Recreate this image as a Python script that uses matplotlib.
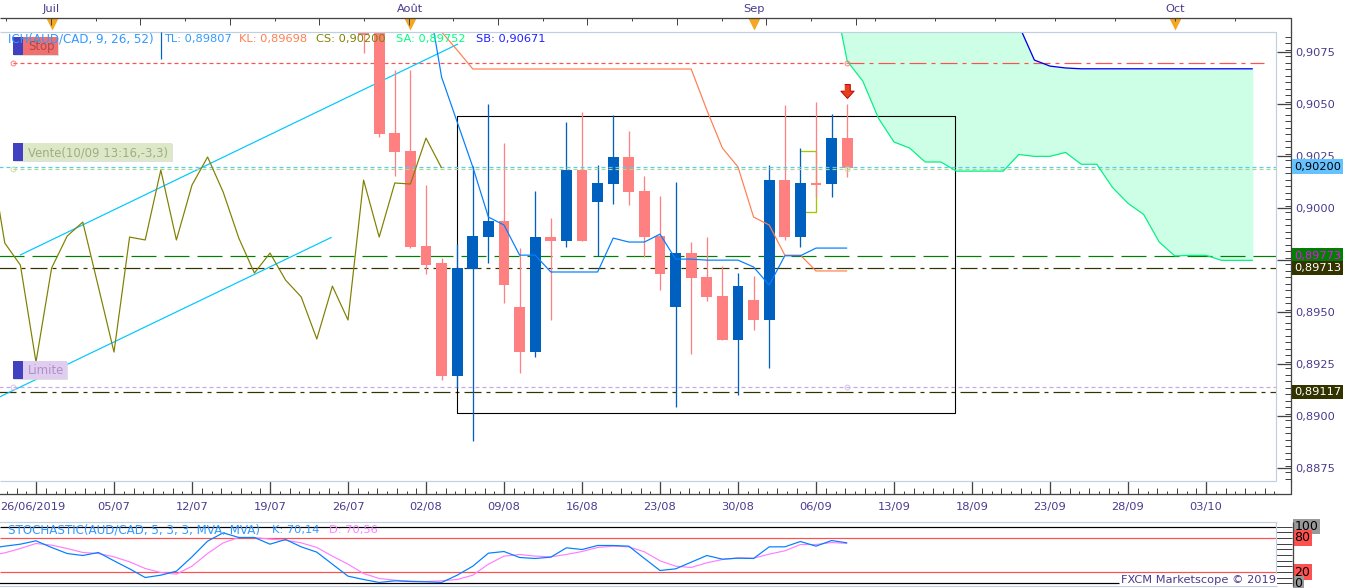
import numpy as np
import matplotlib
matplotlib.use('Agg')
import matplotlib.pyplot as plt
from matplotlib.patches import Rectangle

plt.rcParams['font.family'] = ['DejaVu Sans']
plt.rcParams['lines.scale_dashes'] = False
plt.rcParams['lines.solid_capstyle'] = 'butt'
plt.rcParams['lines.dash_capstyle'] = 'butt'

# Bars (bar number 0 is 26/06/2019, the x labels sit on every 5th bar)
candle_idx = np.arange(21, 53)
opens = [0.90900, 0.90850, 0.90362, 0.90275, 0.89819, 0.89737, 0.89195, 0.89708,
         0.89862, 0.89939, 0.89525, 0.89309, 0.89862, 0.89843, 0.90184, 0.90030,
         0.90117, 0.90247, 0.90083, 0.89867, 0.89525, 0.89785, 0.89670, 0.89578,
         0.89367, 0.89559, 0.89463, 0.90136, 0.89862, 0.90122, 0.90117, 0.90338]
highs = [0.90950, 0.90900, 0.90665, 0.90665, 0.90112, 0.89761, 0.89828, 0.90203,
         0.90501, 0.90314, 0.89809, 0.90083, 0.89953, 0.90415, 0.90463, 0.90208,
         0.90449, 0.90372, 0.90155, 0.90059, 0.90126, 0.89838, 0.89862, 0.89723,
         0.89689, 0.89675, 0.90208, 0.90497, 0.90290, 0.90511, 0.90453, 0.90501]
lows = [0.90747, 0.90343, 0.90155, 0.89810, 0.89686, 0.89174, 0.89136, 0.88881,
        0.89737, 0.89545, 0.89208, 0.89285, 0.89463, 0.89814, 0.89843, 0.89771,
        0.90021, 0.90016, 0.89766, 0.89607, 0.89045, 0.89299, 0.89554, 0.89367,
        0.89102, 0.89415, 0.89232, 0.89848, 0.89814, 0.90054, 0.90054, 0.90150]
closes = [0.90833, 0.90357, 0.90271, 0.89815, 0.89727, 0.89195, 0.89713, 0.89867,
          0.89939, 0.89631, 0.89309, 0.89862, 0.89843, 0.90184, 0.89843, 0.90122,
          0.90247, 0.90078, 0.89862, 0.89684, 0.89785, 0.89665, 0.89574, 0.89367,
          0.89626, 0.89463, 0.90136, 0.89862, 0.90122, 0.90112, 0.90338, 0.90194]

# Ichimoku lines
tenkan_idx = np.arange(25, 53)
tenkan = [0.91074, 0.90631, 0.90415, 0.90199, 0.89958, 0.89920, 0.89775, 0.89775,
          0.89694, 0.89694, 0.89694, 0.89694, 0.89857, 0.89838, 0.89838, 0.89876,
          0.89756, 0.89756, 0.89751, 0.89751, 0.89751, 0.89718, 0.89631, 0.89772,
          0.89772, 0.89809, 0.89809, 0.89809]
kijun_idx = np.arange(26, 53)
kijun = [0.90848, 0.90761, 0.90670, 0.90670, 0.90670, 0.90670, 0.90670, 0.90670,
         0.90670, 0.90670, 0.90670, 0.90670, 0.90670, 0.90670, 0.90670, 0.90670,
         0.90670, 0.90473, 0.90290, 0.90199, 0.89958, 0.89920, 0.89775, 0.89775,
         0.89699, 0.89699, 0.89699]
chikou_idx = np.arange(-3, 27)
chikou = [0.90285, 0.89833, 0.89727, 0.89261, 0.89713, 0.89867, 0.89934, 0.89622,
          0.89309, 0.89862, 0.89848, 0.90184, 0.89848, 0.90112, 0.90247, 0.90078,
          0.89857, 0.89689, 0.89785, 0.89655, 0.89574, 0.89372, 0.89626, 0.89463,
          0.90136, 0.89862, 0.90122, 0.90117, 0.90338, 0.90194]
senkou_idx = np.arange(51, 79)
senkou_a = [0.91083, 0.90708, 0.90612, 0.90434, 0.90319, 0.90290, 0.90223, 0.90223,
            0.90179, 0.90179, 0.90179, 0.90179, 0.90259, 0.90250, 0.90250, 0.90269,
            0.90212, 0.90212, 0.90101, 0.90024, 0.89971, 0.89838, 0.89771, 0.89774,
            0.89774, 0.89750, 0.89750, 0.89750]
senkou_b = [0.91100, 0.91100, 0.91100, 0.91100, 0.91100, 0.91100, 0.91100, 0.91100,
            0.91100, 0.91100, 0.91100, 0.91050, 0.90881, 0.90713, 0.90684, 0.90675,
            0.90671, 0.90671, 0.90671, 0.90671, 0.90671, 0.90671, 0.90671, 0.90671,
            0.90671, 0.90671, 0.90671, 0.90671]

# Drawn objects and levels
box_x = [27, 58.93]
box_y = [0.89014, 0.90444]
channel_up_x = [-1.03, 27.05]
channel_up_y = [0.89775, 0.90790]
channel_low_x = [-2.31, 18.95]
channel_low_y = [0.89094, 0.89861]
bracket_x = [49, 50, 50, 49]
bracket_y = [0.90275, 0.90275, 0.89982, 0.89982]
order_x = [-1.47, 52]
stop_level = 0.90697
sell_level = 0.90189
limit_level = 0.89139
price_level = 0.90200
green_level = 0.89773
dark_level_1 = 0.89713
dark_level_2 = 0.89117

# Stochastic
stoch_idx = np.arange(-3, 53)
stoch_k = [61.4, 65.5, 69.0, 74.9, 63.2, 52.6, 49.1, 54.4, 39.8, 25.7, 10.5, 14.6,
           21.6, 46.8, 74.3, 88.9, 80.7, 80.7, 69.0, 77.2, 64.3, 55.0, 33.9, 12.9,
           7.0, 1.8, 4.7, 3.5, 2.9, 1.8, 14.6, 30.4, 53.2, 56.1, 45.6, 43.9, 46.2,
           62.6, 59.6, 66.7, 66.7, 65.5, 43.9, 22.8, 25.7, 37.4, 49.1, 42.7, 44.4,
           43.9, 64.3, 64.3, 73.7, 65.5, 75.4, 71.3]
stoch_d = [48.5, 53.8, 61.4, 70.2, 67.3, 61.4, 54.4, 52.6, 46.8, 38.0, 26.3, 19.3,
           16.4, 30.4, 52.6, 71.3, 80.7, 80.7, 77.8, 76.0, 71.3, 63.2, 48.0, 33.9,
           17.5, 8.8, 5.8, 4.1, 3.5, 4.7, 7.0, 14.6, 33.9, 48.0, 50.9, 48.0, 46.8,
           50.9, 56.1, 63.2, 65.5, 64.3, 55.6, 39.8, 30.4, 28.1, 36.3, 42.1, 45.0,
           44.4, 51.5, 57.3, 68.4, 68.4, 71.9, 70.2]

# Axis labels
date_labels = ['26/06/2019', '05/07', '12/07', '19/07', '26/07', '02/08', '09/08',
               '16/08', '23/08', '30/08', '06/09', '13/09', '18/09', '23/09',
               '28/09', '03/10']
month_labels = ['Juil', 'Août', 'Sep', 'Oct']
month_idx = [1, 24, 46, 73]
price_ticks = [0.8875, 0.8900, 0.8925, 0.8950, 0.8975, 0.9000, 0.9025, 0.9050, 0.9075]

W, H = 1349, 588
PX = 0.72  # one pixel in points at dpi 100
TEXT = '#4b3a8c'
BORDER = '#c0d0e0'
PINK = '#ff8080'
BLUE = '#0060c0'
FS = 8.2
FS_CAPS = 8.6
SHORT = (0, (4 * PX, 3 * PX))
LONG = (0, (25 * PX, 8 * PX))
DASHDOT = (0, (17 * PX, 5 * PX, 4 * PX, 5 * PX))
XLIM = (-2.3077, 79.487)
YLIM = (0.88689, 0.90848)


def panel(fig, top, bottom):
    return fig.add_axes([0, (H - bottom) / H, 1276 / W, (bottom - top) / H])


def level(ax, y, x0, x1, color, style, z=1.5):
    ax.plot([x0, x1], [y, y], color=color, lw=PX * 1.2, ls=style, zorder=z)


fig = plt.figure(figsize=(W / 100, H / 100), dpi=100)

# ---- main price panel ----
ax = panel(fig, 32, 481)

ax.fill_between(senkou_idx, senkou_a, senkou_b, color='#ccffe6', lw=0, zorder=1)
ax.plot(senkou_idx, senkou_a, color='#00f080', lw=PX * 1.2, zorder=4)
ax.plot(senkou_idx[11:], senkou_b[11:], color='#0000f0', lw=PX * 1.3, zorder=4)

# horizontal levels
x_end = 79.5
level(ax, green_level, -3, x_end, '#008000', LONG)
level(ax, dark_level_1, -3, x_end, '#333300', DASHDOT)
level(ax, dark_level_2, -3, x_end, '#333300', DASHDOT)
level(ax, limit_level, -3, x_end, '#c8a8e0', SHORT)
level(ax, stop_level, -1.47, 52, '#ff5050', SHORT)
level(ax, stop_level, 52, 78.7, '#ff5050', DASHDOT)

# box and channel
ax.plot([box_x[0], box_x[1], box_x[1], box_x[0], box_x[0]],
        [box_y[0], box_y[0], box_y[1], box_y[1], box_y[0]],
        color='black', lw=PX * 1.1, zorder=1.8)
ax.plot(channel_up_x, channel_up_y, color='#00c8ff', lw=PX * 1.2, zorder=2)
ax.plot(channel_low_x, channel_low_y, color='#00c8ff', lw=PX * 1.2, zorder=2)

# candles
for i, o, h, l, c in zip(candle_idx, opens, highs, lows, closes):
    col = BLUE if c >= o else PINK
    ax.vlines(i, l, h, color=col, lw=PX * 1.3, zorder=2.6)
    ax.bar(i, abs(c - o), bottom=min(o, c), width=0.68, color=col, lw=0, zorder=2.7)

# dotted levels go over the candles
level(ax, price_level, -3, x_end, '#5ac8fa', SHORT, z=3)
level(ax, sell_level, order_x[0], x_end, '#a8d890', SHORT, z=3)

ax.plot(chikou_idx, chikou, color='#808000', lw=PX * 1.2, zorder=3.5)
ax.plot(kijun_idx, kijun, color='#ff7f50', lw=PX * 1.2, zorder=3.5)
ax.plot(tenkan_idx, tenkan, color='#007fff', lw=PX * 1.2, zorder=3.6)
ax.plot(bracket_x, bracket_y, color='#a0c800', lw=PX * 1.3, zorder=2.5)

# order anchors and sell arrow
for lev, col in zip([stop_level, sell_level, limit_level], ['#ff8080', '#c8e0a8', '#d8c0ea']):
    ax.plot(order_x, [lev, lev], ls='none', marker='o', ms=3.5, mfc='none', mec=col, mew=0.7, zorder=5)
arrow = [(-0.4, 1), (0.4, 1), (0.4, 0.05), (0.95, 0.05), (0, -1), (-0.95, 0.05), (-0.4, 0.05)]
ax.plot(52, 0.90565, marker=arrow, ms=10, mfc='#e8401c', mec='#c00000', mew=0.7, zorder=6)

# axes
for s in ['top', 'left']:
    ax.spines[s].set_visible(False)
ax.spines['right'].set_position(('outward', 15 * PX))
ax.spines['bottom'].set_position(('outward', 13 * PX))
for s in ['right', 'bottom']:
    ax.spines[s].set_color('#444444')
    ax.spines[s].set_linewidth(PX * 1.3)
ax.yaxis.tick_right()
ax.set_yticks(price_ticks)
ax.set_yticklabels([f'{p:.4f}'.replace('.', ',') for p in price_ticks], color=TEXT, fontsize=FS)
ax.set_yticks(np.arange(0.8870, 0.9085, 0.0025 / 8), minor=True)
ax.tick_params(axis='y', which='major', direction='in', length=14 * PX, width=PX * 1.3,
               color='#444444', pad=3)
ax.tick_params(axis='y', which='minor', direction='in', length=6 * PX, width=PX, color='#444444')
ax.set_xticks(np.arange(0, 80, 5))
ax.set_xticklabels([''] * 16)
ax.set_xticks(np.arange(-1.875, 79.4, 0.625), minor=True)
ax.tick_params(axis='x', which='major', direction='in', length=13 * PX, width=PX * 1.3, color='#444444')
ax.tick_params(axis='x', which='minor', direction='in', length=3 * PX, width=PX, color='#444444')
for n, tick in enumerate(ax.xaxis.get_minor_ticks()):
    if n % 2 == 1:
        tick.tick1line.set_markersize(6 * PX)
# set_xticks/set_yticks stretch the view, so the limits come last
ax.set_xlim(*XLIM)
ax.set_ylim(*YLIM)

trans_x = ax.get_xaxis_transform()
for n, lab in enumerate(date_labels):
    if n == 0:
        ax.text(-2.3, -26 / 449, lab, transform=trans_x, ha='left', va='center',
                fontsize=FS, color=TEXT, clip_on=False)
    else:
        ax.text(n * 5, -26 / 449, lab, transform=trans_x, ha='center', va='center',
                fontsize=FS, color=TEXT, clip_on=False)

# month strip on top
for m, i in zip(month_labels, month_idx):
    ax.text(i, 1 + 23 / 449, m, transform=trans_x, ha='center', va='center',
            fontsize=FS, color=TEXT, clip_on=False)
    ax.plot(i, 1 + 8 / 449, transform=trans_x, marker='v', ms=8, mfc='#f5a623', mec='none',
            clip_on=False, zorder=6)

# highlighted price labels
trans_y = ax.get_yaxis_transform()
price_boxes = [(price_level, '#66c2ff', 'black'), (green_level, '#008000', '#ff00ff'),
               (dark_level_1, '#333300', 'white'), (dark_level_2, '#333300', 'white')]
for lev, bg, fg in price_boxes:
    ax.text(1 + 18 / 1276, lev, f'{lev:.5f}'.replace('.', ','), transform=trans_y, ha='left',
            va='center', fontsize=FS, color=fg, clip_on=False, zorder=7,
            bbox=dict(boxstyle='square,pad=0.2', fc=bg, ec='none'))

# ---- stochastic panel ----
ax2 = panel(fig, 522, 586)
ax2.axhline(100, color='black', lw=PX * 1.2)
ax2.plot([-3, 69.4], [0, 0], color='black', lw=PX * 1.2)
ax2.axhline(80, color='#ff5050', lw=PX * 1.2)
ax2.axhline(20, color='#ff5050', lw=PX * 1.2)
ax2.plot(stoch_idx, stoch_d, color='#ff80ff', lw=PX * 1.2)
ax2.plot(stoch_idx, stoch_k, color='#007fff', lw=PX * 1.2)
ax2.set_xticks([])
for s in ['top', 'left', 'right', 'bottom']:
    ax2.spines[s].set_color(BORDER)
    ax2.spines[s].set_linewidth(PX * 1.2)
ax2.spines['left'].set_visible(False)
ax2.yaxis.tick_right()
ax2.set_yticks(np.arange(0, 101, 10))
ax2.set_yticklabels([])
ax2.tick_params(axis='y', direction='out', length=16 * PX, width=PX, color='#444444', pad=0)
ax2.set_xlim(*XLIM)
ax2.set_ylim(-4.4, 107.9)
trans2 = ax2.get_yaxis_transform()
for v, bg in zip([100, 80, 20, 0], ['#999999', '#ff5050', '#ff5050', '#999999']):
    ax2.text(1 + 18.5 / 1276, v, str(v), transform=trans2, ha='left', va='center', fontsize=9,
             color='black', clip_on=False, bbox=dict(boxstyle='square,pad=0.1', fc=bg, ec='none'))

# ---- pixel overlay for window furniture ----
ov = fig.add_axes([0, 0, 1, 1], zorder=10)
ov.set_xlim(0, W)
ov.set_ylim(H, 0)
ov.axis('off')
ov.patch.set_alpha(0)

# panel borders and right hand axes
ov.plot([0, 1276, 1276], [32, 32, 481], color=BORDER, lw=PX * 1.2)
ov.plot([0, 1276], [481, 481], color=BORDER, lw=PX * 1.2)
ov.plot([1292.5, 1292.5], [522, 586], color='#444444', lw=PX * 1.3)
ov.plot([1276, 1291, 1291], [494, 494, 481], color='#444444', lw=PX * 1.3)
ov.plot([0, 1291, 1291], [18, 18, 32], color='#444444', lw=PX * 1.3)
for n, x in enumerate(np.arange(6.3, 860, 44.7)):
    ov.plot([x, x], [18, 25 if n % 2 else 21], color='#444444', lw=PX)
for x in np.arange(875, 1240, 60):
    ov.plot([x, x], [18, 21], color='#444444', lw=PX)

# header text
header = [(8, 'ICH(AUD/CAD, 9, 26, 52)', '#3399ff', FS_CAPS), (164, 'TL: 0,89807', '#3399ff', FS),
          (239, 'KL: 0,89698', '#ff7f50', FS), (316, 'CS: 0,90200', '#808000', FS),
          (396, 'SA: 0,89752', '#00ff7f', FS), (476, 'SB: 0,90671', '#2020ff', FS),
          ]
for x, s, col, size in header:
    ov.text(x, 39, s, color=col, fontsize=size, va='center')
ov.plot([161, 161], [32, 59], color=BLUE, lw=PX * 1.2)
ov.text(8, 530, 'STOCHASTIC(AUD/CAD, 5, 3, 3, MVA, MVA)', color='#3399ff', fontsize=FS_CAPS, va='center')
ov.text(272, 530, 'K: 70,14', color='#3399ff', fontsize=FS, va='center')
ov.text(329, 530, 'D: 70,56', color='#ff80ff', fontsize=FS, va='center')
ov.text(1276, 580, 'FXCM Marketscope © 2019', color=TEXT, fontsize=FS, ha='right', va='center',
        bbox=dict(boxstyle='square,pad=0.05', fc='white', ec='none'))

# order tags
tags = [('Stop', 13, 37, 45, '#f07070', '#b04848'),
        ('Vente(10/09 13:16,-3,3)', 13, 143, 159, '#dce8c8', '#a0ad80'),
        ('Limite', 13, 361, 54, '#e0cef0', '#b090c8')]
for s, x, y, w, bg, fg in tags:
    ov.add_patch(Rectangle((x + 1, y + 1), w, 18, fc='#d8d8d8', ec='none', alpha=0.8))
    ov.add_patch(Rectangle((x, y), w, 18, fc=bg, ec='none'))
    ov.add_patch(Rectangle((x, y), 10, 18, fc='#4040c0', ec='none'))
    ov.text(x + 15, y + 9.5, s, color=fg, fontsize=8.4, va='center')

fig.savefig('out.png', dpi=100)
